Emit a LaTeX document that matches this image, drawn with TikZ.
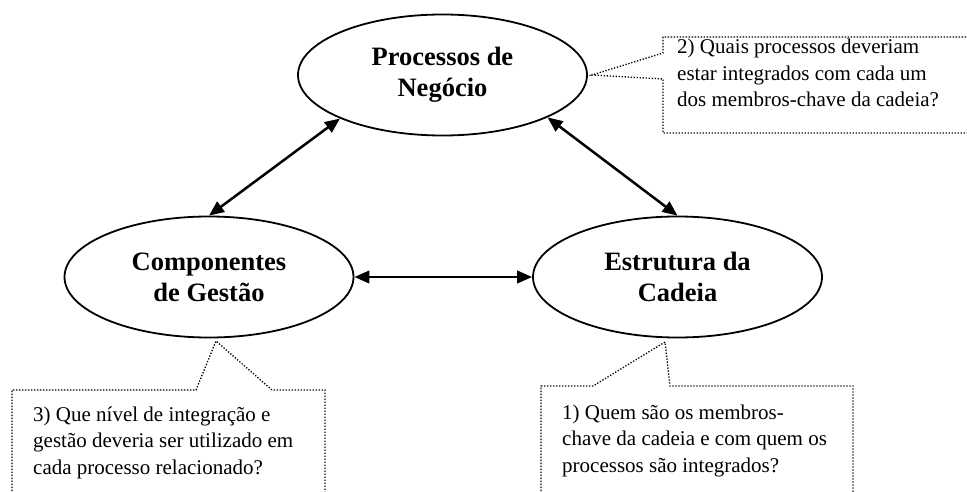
\documentclass[tikz,border=0pt]{standalone}
\usepackage{fontspec}
\setmainfont{Liberation Serif}
\usetikzlibrary{shapes.geometric,arrows.meta}
\begin{document}
\begin{tikzpicture}[x=1pt,y=-1pt,
  bubble/.style={draw,line width=1.8pt,ellipse,minimum width=289pt,minimum height=121pt,inner sep=0pt,align=center,font=\fontsize{26.5}{31}\selectfont\bfseries},
  link/.style={line width=2.5pt,{Triangle[length=15pt,width=12.5pt]}-{Triangle[length=15pt,width=12.5pt]}},
  callout/.style={line width=1.3pt,dash pattern=on 1.3pt off 1.7pt},
  qtext/.style={anchor=base west,inner sep=0pt,align=left,font=\fontsize{21}{26.5}\selectfont}]
\useasboundingbox (0,0) rectangle (967,492);
\node[bubble] (top) at (442.5,75) {Processos de\\Negócio};
\node[bubble] (left) at (209,277) {Componentes\\de Gestão};
\node[bubble] (right) at (677.5,277) {Estrutura da\\Cadeia};
\draw[link] (left.north) -- (top.203);
\draw[link] (top.338) -- (right.north);
\draw[link] (left) -- (right);
% callout 2
\coordinate (t2) at (592,75);
\draw[callout] (972,37) -- (663,37) -- (663,53) -- (t2) -- (663,79) -- (663,133) -- (972,133);
\node[qtext] (q2) at (677,107) {2) Quais processos deveriam\\estar integrados com cada um\\dos membros-chave da cadeia?};
% callout 3
\coordinate (t3) at (216,341);
\draw[callout] (12,500) -- (12,390) -- (196,390) -- (t3) -- (272,390) -- (325,390) -- (325,500);
\node[qtext] (q3) at (33,474) {3) Que nível de integração e\\gestão deveria ser utilizado em\\cada processo relacionado?};
% callout 1
\coordinate (t1) at (665,342);
\draw[callout] (541,500) -- (541,386) -- (593,386) -- (t1) -- (670,386) -- (853,386) -- (853,500);
\node[qtext] (q1) at (562,472) {1) Quem são os membros-\\chave da cadeia e com quem os\\processos são integrados?};
\end{tikzpicture}
\end{document}
